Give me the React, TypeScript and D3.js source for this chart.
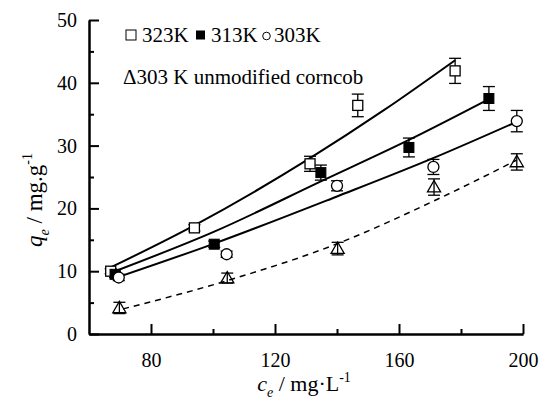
import React, { useRef, useEffect } from 'react';
import * as d3 from 'd3';

const W = 544;
const H = 403;

// measured points: [ce, qe, error]
const s323: [number, number, number][] = [
  [67.0, 10.0, 0.4], [94.0, 16.9, 0.5], [131.3, 27.1, 1.2], [146.7, 36.4, 1.8], [178.1, 41.9, 2.0],
];
const s313: [number, number, number][] = [
  [68.4, 9.5, 0.5], [100.4, 14.3, 0.5], [134.8, 25.7, 1.2], [163.2, 29.7, 1.5], [189.0, 37.5, 1.9],
];
const s303: [number, number, number][] = [
  [69.6, 9.0, 0.5], [104.4, 12.7, 0.5], [140.0, 23.6, 0.8], [171.1, 26.6, 1.2], [198.0, 33.9, 1.7],
];
const sUnmod: [number, number, number][] = [
  [69.8, 4.15, 0.9], [104.6, 8.9, 0.8], [140.2, 13.6, 1.0], [171.3, 23.4, 1.3], [198.0, 27.4, 1.3],
];

// fitted curves
const fit323: [number, number][] = [[67, 10.6], [94, 17.3], [131.3, 28.0], [155, 35.6], [178.1, 43.6]];
const fit313: [number, number][] = [[68.4, 10.0], [100.4, 16.3], [134.8, 24.3], [163.2, 30.9], [189, 37.4]];
const fit303: [number, number][] = [[69.6, 9.1], [100.4, 14.4], [140, 21.9], [171, 28.0], [198, 33.8]];
const fitUnmod: [number, number][] = [[71, 4.0], [104.6, 8.5], [140.2, 14.4], [171.3, 21.2], [198, 27.7]];

const xMajor = [80, 120, 160, 200];
const xMinor = [100, 140, 180];
const yMajor = [0, 10, 20, 30, 40, 50];
const yMinor = [5, 15, 25, 35, 45];

const FONT = "'Liberation Serif', 'Times New Roman', Times, 'DejaVu Serif', serif";

export default function App() {
  const svgRef = useRef<SVGSVGElement>(null);

  useEffect(() => {
    const svg = d3.select(svgRef.current);
    svg.selectAll('*').remove();

    const x = d3.scaleLinear().domain([60, 200]).range([89, 523]);
    const y = d3.scaleLinear().domain([0, 50]).range([334, 20]);

    // Fit lines
    const line = d3.line<[number, number]>()
      .x(d => x(d[0]))
      .y(d => y(d[1]))
      .curve(d3.curveMonotoneX);

    [fit323, fit313, fit303].forEach(f => {
      svg.append('path').attr('d', line(f)).attr('fill', 'none')
        .attr('stroke', '#000').attr('stroke-width', 2);
    });
    svg.append('path').attr('d', line(fitUnmod)).attr('fill', 'none')
      .attr('stroke', '#000').attr('stroke-width', 1.5).attr('stroke-dasharray', '6,5');

    // Error bars
    const errBars = (data: [number, number, number][]) => {
      const g = svg.append('g').attr('stroke', '#000').attr('stroke-width', 1.3);
      data.forEach(([cx, q, e]) => {
        const px = x(cx);
        g.append('line').attr('x1', px).attr('x2', px).attr('y1', y(q - e)).attr('y2', y(q + e));
        g.append('line').attr('x1', px - 6).attr('x2', px + 6).attr('y1', y(q - e)).attr('y2', y(q - e));
        g.append('line').attr('x1', px - 6).attr('x2', px + 6).attr('y1', y(q + e)).attr('y2', y(q + e));
      });
    };
    [s323, s313, s303, sUnmod].forEach(errBars);

    // Markers
    const sq = 10;
    svg.append('g').selectAll('rect').data(s323).join('rect')
      .attr('x', d => x(d[0]) - sq / 2).attr('y', d => y(d[1]) - sq / 2)
      .attr('width', sq).attr('height', sq)
      .attr('fill', '#fff').attr('stroke', '#000').attr('stroke-width', 1.3);
    svg.append('g').selectAll('rect').data(s313).join('rect')
      .attr('x', d => x(d[0]) - sq / 2).attr('y', d => y(d[1]) - sq / 2)
      .attr('width', sq).attr('height', sq)
      .attr('fill', '#000').attr('stroke', '#000').attr('stroke-width', 1);
    svg.append('g').selectAll('circle').data(s303).join('circle')
      .attr('cx', d => x(d[0])).attr('cy', d => y(d[1])).attr('r', 5.5)
      .attr('fill', '#fff').attr('stroke', '#000').attr('stroke-width', 1.3);
    const tri = d3.symbol().type(d3.symbolTriangle).size(75);
    svg.append('g').selectAll('path').data(sUnmod).join('path')
      .attr('d', tri())
      .attr('transform', d => `translate(${x(d[0])},${y(d[1]) + 1})`)
      .attr('fill', 'none').attr('stroke', '#000').attr('stroke-width', 1.3);

    // Axes
    const styleAxis = (a: d3.Selection<SVGGElement, unknown, null, undefined>) => {
      a.attr('font-family', null).attr('font-size', null);
      a.selectAll('path,line').attr('stroke', '#000').attr('stroke-width', 2);
      a.selectAll('text').attr('fill', '#000').style('font-size', '20px').style('font-family', FONT);
    };
    svg.append('g').attr('transform', 'translate(0,334)')
      .call(d3.axisBottom(x).tickValues(xMinor).tickSize(-5).tickSizeOuter(0).tickFormat(() => ''))
      .call(styleAxis);
    svg.append('g').attr('transform', 'translate(0,334)')
      .call(d3.axisBottom(x).tickValues(xMajor).tickSize(-10).tickSizeOuter(0).tickPadding(19).tickFormat(d3.format('d')))
      .call(styleAxis);
    svg.append('g').attr('transform', 'translate(89,0)')
      .call(d3.axisLeft(y).tickValues(yMinor).tickSize(-5).tickSizeOuter(0).tickFormat(() => ''))
      .call(styleAxis);
    svg.append('g').attr('transform', 'translate(89,0)')
      .call(d3.axisLeft(y).tickValues(yMajor).tickSize(-10).tickSizeOuter(0).tickPadding(12).tickFormat(d3.format('d')))
      .call(styleAxis);

    // Axis titles
    const xt = svg.append('text').attr('x', 304).attr('y', 391).attr('text-anchor', 'middle')
      .style('font-family', FONT).style('font-size', '22px');
    xt.append('tspan').attr('font-style', 'italic').text('c');
    xt.append('tspan').style('font-size', '14px').attr('dy', 6).attr('font-style', 'italic').text('e');
    xt.append('tspan').attr('dy', -6).text(' / mg·L');
    xt.append('tspan').style('font-size', '14px').attr('dy', -9).text('-1');

    const yt = svg.append('text').attr('transform', 'translate(42,200) rotate(-90)').attr('text-anchor', 'middle')
      .style('font-family', FONT).style('font-size', '23px');
    yt.append('tspan').attr('font-style', 'italic').text('q');
    yt.append('tspan').style('font-size', '14px').attr('dy', 7).attr('font-style', 'italic').text('e');
    yt.append('tspan').attr('dy', -7).text(' / mg.g');
    yt.append('tspan').style('font-size', '14px').attr('dy', -10).text('-1');

    // Legend
    svg.append('rect').attr('x', 126).attr('y', 30).attr('width', 10).attr('height', 10)
      .attr('fill', '#fff').attr('stroke', '#000').attr('stroke-width', 1);
    svg.append('rect').attr('x', 196).attr('y', 30.5).attr('width', 9).attr('height', 9).attr('fill', '#000');
    svg.append('circle').attr('cx', 266.5).attr('cy', 36).attr('r', 3.8)
      .attr('fill', '#fff').attr('stroke', '#000').attr('stroke-width', 1);
    const lg = [['323K', 142], ['313K', 211], ['303K', 274]] as const;
    lg.forEach(([t, lx]) => {
      svg.append('text').attr('x', lx).attr('y', 42)
        .style('font-family', FONT).style('font-size', '21px').text(t);
    });
    svg.append('text').attr('x', 123).attr('y', 84)
      .style('font-family', FONT).style('font-size', '21px')
      .text('Δ303 K unmodified corncob');
  }, []);

  return (
    <svg
      ref={svgRef}
      width={W}
      height={H}
      style={{ position: 'absolute', left: 0, top: 0, background: '#fff' }}
    />
  );
}
